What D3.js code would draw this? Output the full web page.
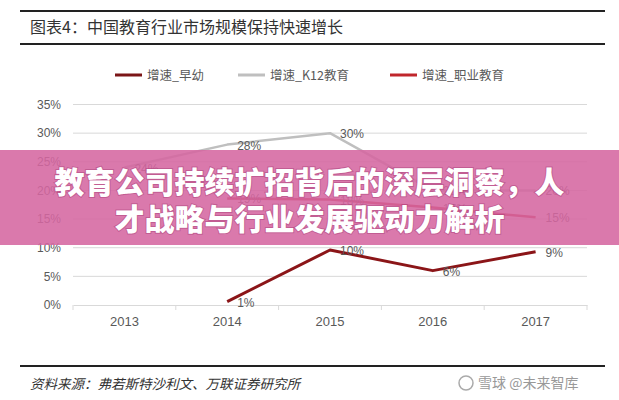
<!DOCTYPE html>
<html>
<head>
<meta charset="utf-8">
<script src="https://cdn.jsdelivr.net/npm/d3@7"></script>
<style>
  html, body { margin: 0; padding: 0; background: #fff; }
  svg { display: block; }
</style>
</head>
<body>
<div id="chart"></div>
<script>
// 数据
var years = ["2013", "2014", "2015", "2016", "2017"];
var seriesNames = ["增速_早幼", "增速_K12教育", "增速_职业教育"];
var zaoyou = [null, 0.6, 9.6, 6.0, 9.3];
var k12 = [24, 28, 30, 20, 20];
var zhiye = [null, 18.6, 18.4, 17.0, 15.3];
var yTicks = [0, 5, 10, 15, 20, 25, 30, 35];

var W = 619, H = 400;
var cjk = "'Noto Sans CJK SC', 'Noto Sans', sans-serif";
var latin = "'Liberation Sans', Arial, sans-serif";
var textGray = "#595959";

var svg = d3.select("#chart").append("svg")
  .attr("width", W)
  .attr("height", H);

// 标题与分隔线
svg.append("line").attr("x1", 20).attr("x2", 605).attr("y1", 11).attr("y2", 11)
  .attr("stroke", "#222").attr("stroke-width", 2);
svg.append("text")
  .attr("x", 30).attr("y", 33)
  .style("font-family", cjk).style("font-size", "16px").style("fill", "#333")
  .text("图表4：中国教育行业市场规模保持快速增长");
svg.append("line").attr("x1", 20).attr("x2", 605).attr("y1", 44).attr("y2", 44)
  .attr("stroke", "#222").attr("stroke-width", 2);

// 比例尺
var x = d3.scaleBand().domain(years).range([73, 587]).padding(0);
var y = d3.scaleLinear().domain([0, 35]).range([305, 104.5]);
var cx = function (d) { return x(d) + x.bandwidth() / 2; };

// 网格线
svg.append("g")
  .selectAll("line")
  .data(yTicks.filter(function (t) { return t > 0; }))
  .enter().append("line")
  .attr("x1", 73).attr("x2", 587)
  .attr("y1", function (d) { return y(d); })
  .attr("y2", function (d) { return y(d); })
  .attr("stroke", "#d9d9d9").attr("stroke-width", 1);

// Y 轴
var yAxis = svg.append("g")
  .attr("transform", "translate(73,0)")
  .call(d3.axisLeft(y).tickValues(yTicks).tickSize(0).tickPadding(12)
    .tickFormat(function (d) { return d + "%"; }));
yAxis.select(".domain").remove();
yAxis.selectAll("text")
  .style("font-family", latin).style("font-size", "12px").style("fill", textGray);

// X 轴
var xAxis = svg.append("g")
  .attr("transform", "translate(0," + y(0) + ")")
  .call(d3.axisBottom(x).tickSize(0).tickPadding(12));
xAxis.select(".domain").attr("stroke", "#d9d9d9");
xAxis.selectAll("text")
  .style("font-family", latin).style("font-size", "13px").style("fill", textGray);
// 分类间刻度线
var edges = years.map(function (d) { return x(d); })
  .concat([x(years[years.length - 1]) + x.bandwidth()]);
svg.append("g")
  .selectAll("line")
  .data(edges)
  .enter().append("line")
  .attr("x1", function (d) { return d; })
  .attr("x2", function (d) { return d; })
  .attr("y1", y(0)).attr("y2", y(0) + 5)
  .attr("stroke", "#d9d9d9");

// 折线
var series = [
  { name: seriesNames[1], values: k12, color: "#bfbfbf", width: 2.5 },
  { name: seriesNames[2], values: zhiye, color: "#c0262c", width: 2.5 },
  { name: seriesNames[0], values: zaoyou, color: "#8b1518", width: 3 }
];

var line = d3.line()
  .defined(function (d) { return d.v !== null; })
  .x(function (d) { return cx(d.year); })
  .y(function (d) { return y(d.v); });

series.forEach(function (s) {
  var pts = years.map(function (yr, i) { return { year: yr, v: s.values[i] }; });
  svg.append("path")
    .datum(pts)
    .attr("fill", "none")
    .attr("stroke", s.color)
    .attr("stroke-width", s.width)
    .attr("stroke-linejoin", "round")
    .attr("d", line);

  svg.append("g")
    .selectAll("text")
    .data(pts.filter(function (d) { return d.v !== null; }))
    .enter().append("text")
    .attr("x", function (d) { return cx(d.year) + 10; })
    .attr("y", function (d) { return y(d.v) + 5; })
    .style("font-family", latin).style("font-size", "12px").style("fill", textGray)
    .text(function (d) { return d3.format(".0f")(d.v) + "%"; });
});

// 图例
var legendColors = ["#7b1517", "#bfbfbf", "#c0262c"];
var legendX = [115, 238, 390];
var legend = svg.append("g");
seriesNames.forEach(function (n, i) {
  legend.append("line")
    .attr("x1", legendX[i]).attr("x2", legendX[i] + 27)
    .attr("y1", 75).attr("y2", 75)
    .attr("stroke", legendColors[i]).attr("stroke-width", 3);
  legend.append("text")
    .attr("x", legendX[i] + 32).attr("y", 79.5)
    .style("font-family", cjk).style("font-size", "12.5px").style("fill", textGray)
    .text(n);
});

// 底部来源
svg.append("line").attr("x1", 20).attr("x2", 605).attr("y1", 366).attr("y2", 366)
  .attr("stroke", "#222").attr("stroke-width", 2);
svg.append("text")
  .attr("x", 30).attr("y", 389)
  .style("font-family", cjk).style("font-size", "13.5px").style("font-style", "italic")
  .style("fill", "#333")
  .text("资料来源：弗若斯特沙利文、万联证券研究所");

// 水印
svg.append("circle").attr("cx", 466).attr("cy", 383).attr("r", 7)
  .attr("fill", "none").attr("stroke", "#aaa").attr("stroke-width", 1.5);
svg.append("text")
  .attr("x", 478).attr("y", 388)
  .style("font-family", cjk).style("font-size", "14px").style("fill", "#999")
  .text("雪球 @未来智库");

// 粉色横幅
svg.append("rect")
  .attr("x", 0).attr("y", 150).attr("width", W).attr("height", 95)
  .attr("fill", "rgb(213,102,161)").attr("fill-opacity", 0.88);

var banner = ["教育公司持续扩招背后的深层洞察，人", "才战略与行业发展驱动力解析"];
svg.append("g")
  .selectAll("text")
  .data(banner)
  .enter().append("text")
  .attr("x", W / 2)
  .attr("y", function (d, i) { return 193 + i * 37; })
  .attr("text-anchor", "middle")
  .style("font-family", cjk).style("font-size", "30px").style("font-weight", "900")
  .style("fill", "#fff")
  .style("paint-order", "stroke")
  .style("stroke", "rgba(150,40,100,0.35)").style("stroke-width", "2px")
  .text(function (d) { return d; });
</script>
</body>
</html>
